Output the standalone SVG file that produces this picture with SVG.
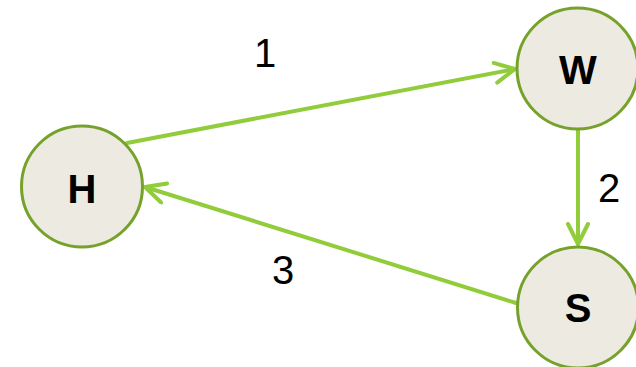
<svg xmlns="http://www.w3.org/2000/svg" width="636" height="367" viewBox="0 0 636 367">
  <style>
    .node circle { fill: #EDEBE1; stroke: #76A22C; stroke-width: 3; }
    .node text { font-family: "Liberation Sans", Arial, sans-serif; font-weight: bold; font-size: 40px; fill: #000; text-anchor: middle; }
    .edge { stroke: #91CC3A; stroke-width: 4; fill: none; stroke-linecap: round; }
    .label { font-family: "Liberation Sans", Arial, sans-serif; font-size: 40px; fill: #000; text-anchor: middle; }
  </style>
  <defs>
    <marker id="chevron" markerUnits="userSpaceOnUse" viewBox="-22 -12 24 24" refX="0" refY="0" markerWidth="24" markerHeight="24" orient="auto">
      <path d="M -20 -10 L 0 0 L -20 10" fill="none" stroke="#91CC3A" stroke-width="4" stroke-linecap="round" stroke-linejoin="round"/>
    </marker>
  </defs>
  <rect width="636" height="367" fill="#fff"/>
  <g id="connectors">
    <line class="edge" x1="127" y1="143" x2="515" y2="69" marker-end="url(#chevron)"/>
    <line class="edge" x1="578" y1="129" x2="578" y2="244" marker-end="url(#chevron)"/>
    <line class="edge" x1="516" y1="303" x2="145" y2="187" marker-end="url(#chevron)"/>
    <text class="label" x="265" y="67">1</text>
    <text class="label" x="609" y="202">2</text>
    <text class="label" x="283" y="284">3</text>
  </g>
  <g id="node-H" class="node">
    <circle cx="82" cy="186.5" r="60.5"/>
    <text x="82" y="203">H</text>
  </g>
  <g id="node-W" class="node">
    <circle cx="577.5" cy="68.5" r="60.5"/>
    <text x="578" y="84">W</text>
  </g>
  <g id="node-S" class="node">
    <circle cx="578" cy="307.5" r="60.5"/>
    <text x="578" y="322">S</text>
  </g>
</svg>
